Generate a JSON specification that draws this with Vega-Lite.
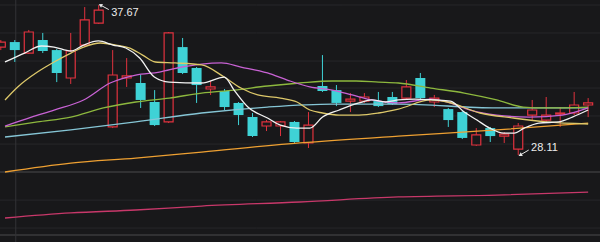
{
  "$schema": "https://vega.github.io/schema/vega-lite/v6.json",
  "width": 600,
  "height": 242,
  "padding": 0,
  "autosize": "none",
  "background": "#18181a",
  "config": {"view": {"stroke": null}},
  "datasets": {
    "candles": [
      {"i":0,"o":34.99,"c":35.31,"h":35.44,"l":34.80,"d":"up"},
      {"i":1,"o":35.31,"c":34.80,"h":35.44,"l":34.04,"d":"down"},
      {"i":2,"o":34.61,"c":35.95,"h":36.08,"l":34.55,"d":"up"},
      {"i":3,"o":35.44,"c":34.74,"h":35.89,"l":34.61,"d":"down"},
      {"i":4,"o":34.80,"c":33.34,"h":34.87,"l":32.76,"d":"down"},
      {"i":5,"o":33.02,"c":34.74,"h":35.89,"l":32.64,"d":"up"},
      {"i":6,"o":35.12,"c":36.72,"h":37.54,"l":35.06,"d":"up"},
      {"i":7,"o":36.52,"c":37.35,"h":37.67,"l":36.46,"d":"up"},
      {"i":8,"o":29.90,"c":33.21,"h":34.80,"l":29.83,"d":"up"},
      {"i":9,"o":33.02,"c":33.15,"h":34.29,"l":32.45,"d":"up"},
      {"i":10,"o":32.70,"c":31.62,"h":33.21,"l":31.11,"d":"down"},
      {"i":11,"o":31.49,"c":30.02,"h":32.25,"l":29.96,"d":"down"},
      {"i":12,"o":30.22,"c":35.89,"h":35.95,"l":30.15,"d":"up"},
      {"i":13,"o":34.99,"c":33.34,"h":35.57,"l":33.27,"d":"down"},
      {"i":14,"o":33.66,"c":32.57,"h":33.72,"l":31.43,"d":"down"},
      {"i":15,"o":32.32,"c":32.45,"h":32.83,"l":31.94,"d":"up"},
      {"i":16,"o":32.19,"c":31.17,"h":32.32,"l":30.98,"d":"down"},
      {"i":17,"o":31.43,"c":30.66,"h":31.49,"l":30.02,"d":"down"},
      {"i":18,"o":30.53,"c":29.32,"h":30.79,"l":29.26,"d":"down"},
      {"i":19,"o":29.96,"c":30.22,"h":30.34,"l":29.64,"d":"up"},
      {"i":20,"o":29.96,"c":30.22,"h":30.28,"l":29.32,"d":"up"},
      {"i":21,"o":30.22,"c":28.94,"h":30.28,"l":28.88,"d":"down"},
      {"i":22,"o":28.88,"c":30.02,"h":30.85,"l":28.56,"d":"up"},
      {"i":23,"o":32.51,"c":32.19,"h":34.48,"l":32.13,"d":"down"},
      {"i":24,"o":32.25,"c":31.43,"h":32.57,"l":31.23,"d":"down"},
      {"i":25,"o":31.55,"c":31.68,"h":32.06,"l":30.85,"d":"up"},
      {"i":26,"o":31.55,"c":31.81,"h":32.06,"l":31.43,"d":"up"},
      {"i":27,"o":31.55,"c":31.23,"h":32.13,"l":31.17,"d":"down"},
      {"i":28,"o":31.81,"c":31.36,"h":32.13,"l":31.30,"d":"down"},
      {"i":29,"o":31.74,"c":32.45,"h":32.89,"l":31.68,"d":"up"},
      {"i":30,"o":33.02,"c":31.74,"h":33.34,"l":31.68,"d":"down"},
      {"i":31,"o":31.49,"c":31.74,"h":31.94,"l":31.17,"d":"up"},
      {"i":32,"o":31.04,"c":30.34,"h":31.11,"l":29.90,"d":"down"},
      {"i":33,"o":30.85,"c":29.20,"h":30.92,"l":29.13,"d":"down"},
      {"i":34,"o":28.75,"c":29.39,"h":29.83,"l":28.69,"d":"up"},
      {"i":35,"o":29.83,"c":29.32,"h":29.90,"l":28.94,"d":"down"},
      {"i":36,"o":29.32,"c":29.45,"h":29.58,"l":28.88,"d":"up"},
      {"i":37,"o":28.49,"c":29.96,"h":30.15,"l":28.11,"d":"up"},
      {"i":38,"o":30.66,"c":30.98,"h":31.62,"l":30.28,"d":"up"},
      {"i":39,"o":30.34,"c":30.66,"h":31.81,"l":30.22,"d":"up"},
      {"i":40,"o":30.72,"c":30.79,"h":31.17,"l":29.90,"d":"up"},
      {"i":41,"o":30.79,"c":31.30,"h":32.13,"l":30.66,"d":"up"},
      {"i":42,"o":31.30,"c":31.43,"h":31.74,"l":30.53,"d":"up"}
    ],
    "ma": [
      {"ma":"MA5","i":0.30,"p":34.04},{"ma":"MA5","i":1.70,"p":34.61},{"ma":"MA5","i":2.90,"p":35.06},{"ma":"MA5","i":3.81,"p":34.99},{"ma":"MA5","i":5.01,"p":34.74},{"ma":"MA5","i":5.92,"p":35.12},{"ma":"MA5","i":6.98,"p":35.38},{"ma":"MA5","i":8.03,"p":35.12},{"ma":"MA5","i":8.94,"p":34.93},{"ma":"MA5","i":9.93,"p":34.29},{"ma":"MA5","i":10.98,"p":33.08},{"ma":"MA5","i":12.04,"p":32.76},{"ma":"MA5","i":14.36,"p":32.70},{"ma":"MA5","i":15.98,"p":33.08},{"ma":"MA5","i":16.68,"p":32.25},{"ma":"MA5","i":17.67,"p":31.17},{"ma":"MA5","i":19.07,"p":30.47},{"ma":"MA5","i":19.99,"p":30.02},{"ma":"MA5","i":21.18,"p":29.83},{"ma":"MA5","i":22.10,"p":29.83},{"ma":"MA5","i":23.01,"p":30.53},{"ma":"MA5","i":24.20,"p":30.98},{"ma":"MA5","i":25.61,"p":31.43},{"ma":"MA5","i":26.53,"p":31.62},{"ma":"MA5","i":27.51,"p":31.49},{"ma":"MA5","i":28.43,"p":31.62},{"ma":"MA5","i":29.62,"p":31.68},{"ma":"MA5","i":31.03,"p":31.62},{"ma":"MA5","i":32.15,"p":31.55},{"ma":"MA5","i":33.14,"p":30.85},{"ma":"MA5","i":34.05,"p":30.34},{"ma":"MA5","i":34.96,"p":29.83},{"ma":"MA5","i":35.95,"p":29.51},{"ma":"MA5","i":36.72,"p":29.51},{"ma":"MA5","i":37.43,"p":29.83},{"ma":"MA5","i":38.48,"p":30.15},{"ma":"MA5","i":39.89,"p":30.22},{"ma":"MA5","i":40.87,"p":30.53},{"ma":"MA5","i":42.00,"p":30.98},
      {"ma":"MA10","i":0.30,"p":31.62},{"ma":"MA10","i":1.21,"p":32.45},{"ma":"MA10","i":2.62,"p":33.40},{"ma":"MA10","i":3.81,"p":34.04},{"ma":"MA10","i":5.01,"p":34.61},{"ma":"MA10","i":5.92,"p":34.99},{"ma":"MA10","i":7.12,"p":35.25},{"ma":"MA10","i":8.24,"p":35.12},{"ma":"MA10","i":9.23,"p":34.93},{"ma":"MA10","i":10.14,"p":34.48},{"ma":"MA10","i":11.05,"p":34.04},{"ma":"MA10","i":12.46,"p":33.98},{"ma":"MA10","i":14.36,"p":33.85},{"ma":"MA10","i":15.98,"p":33.08},{"ma":"MA10","i":17.17,"p":32.38},{"ma":"MA10","i":18.37,"p":31.94},{"ma":"MA10","i":19.99,"p":31.74},{"ma":"MA10","i":21.18,"p":31.49},{"ma":"MA10","i":22.10,"p":30.98},{"ma":"MA10","i":23.01,"p":30.79},{"ma":"MA10","i":24.20,"p":30.66},{"ma":"MA10","i":25.61,"p":30.66},{"ma":"MA10","i":27.02,"p":30.79},{"ma":"MA10","i":28.43,"p":31.04},{"ma":"MA10","i":30.75,"p":31.62},{"ma":"MA10","i":31.94,"p":31.49},{"ma":"MA10","i":34.26,"p":30.79},{"ma":"MA10","i":36.65,"p":30.47},{"ma":"MA10","i":38.97,"p":30.22},{"ma":"MA10","i":42.00,"p":30.09},
      {"ma":"MA20","i":0.30,"p":29.96},{"ma":"MA20","i":2.19,"p":30.53},{"ma":"MA20","i":3.81,"p":30.98},{"ma":"MA20","i":5.92,"p":31.62},{"ma":"MA20","i":7.82,"p":32.70},{"ma":"MA20","i":9.65,"p":33.21},{"ma":"MA20","i":11.34,"p":33.40},{"ma":"MA20","i":12.95,"p":33.72},{"ma":"MA20","i":14.36,"p":33.91},{"ma":"MA20","i":15.77,"p":33.98},{"ma":"MA20","i":17.17,"p":33.72},{"ma":"MA20","i":19.07,"p":33.34},{"ma":"MA20","i":20.48,"p":32.89},{"ma":"MA20","i":22.10,"p":32.45},{"ma":"MA20","i":23.71,"p":32.25},{"ma":"MA20","i":25.12,"p":31.94},{"ma":"MA20","i":26.53,"p":31.62},{"ma":"MA20","i":28.43,"p":31.43},{"ma":"MA20","i":30.75,"p":31.68},{"ma":"MA20","i":31.94,"p":31.49},{"ma":"MA20","i":33.56,"p":30.98},{"ma":"MA20","i":35.46,"p":30.66},{"ma":"MA20","i":37.78,"p":30.53},{"ma":"MA20","i":40.17,"p":30.66},{"ma":"MA20","i":42.00,"p":31.11},
      {"ma":"MA30","i":0.30,"p":29.90},{"ma":"MA30","i":2.62,"p":30.22},{"ma":"MA30","i":5.01,"p":30.53},{"ma":"MA30","i":7.33,"p":31.11},{"ma":"MA30","i":9.65,"p":31.49},{"ma":"MA30","i":12.04,"p":31.74},{"ma":"MA30","i":14.36,"p":32.06},{"ma":"MA30","i":16.68,"p":32.25},{"ma":"MA30","i":19.07,"p":32.51},{"ma":"MA30","i":21.39,"p":32.70},{"ma":"MA30","i":23.71,"p":32.83},{"ma":"MA30","i":25.40,"p":32.83},{"ma":"MA30","i":27.02,"p":32.76},{"ma":"MA30","i":28.43,"p":32.70},{"ma":"MA30","i":30.75,"p":32.38},{"ma":"MA30","i":33.14,"p":32.06},{"ma":"MA30","i":35.46,"p":31.62},{"ma":"MA30","i":37.36,"p":31.17},{"ma":"MA30","i":38.97,"p":31.11},{"ma":"MA30","i":42.00,"p":31.17},
      {"ma":"MA60","i":0.30,"p":29.26},{"ma":"MA60","i":5.01,"p":29.71},{"ma":"MA60","i":9.65,"p":30.22},{"ma":"MA60","i":14.36,"p":30.79},{"ma":"MA60","i":19.07,"p":31.17},{"ma":"MA60","i":23.71,"p":31.36},{"ma":"MA60","i":28.43,"p":31.36},{"ma":"MA60","i":35.46,"p":31.11},{"ma":"MA60","i":42.00,"p":31.11},
      {"ma":"MA120","i":0.30,"p":27.03},{"ma":"MA120","i":5.01,"p":27.60},{"ma":"MA120","i":9.65,"p":27.92},{"ma":"MA120","i":14.36,"p":28.30},{"ma":"MA120","i":21.39,"p":28.88},{"ma":"MA120","i":28.43,"p":29.32},{"ma":"MA120","i":35.46,"p":29.71},{"ma":"MA120","i":42.00,"p":30.15},
      {"ma":"MA250","i":0.30,"p":24.10},{"ma":"MA250","i":5.01,"p":24.42},{"ma":"MA250","i":9.65,"p":24.61},{"ma":"MA250","i":14.36,"p":24.86},{"ma":"MA250","i":21.39,"p":25.12},{"ma":"MA250","i":28.43,"p":25.44},{"ma":"MA250","i":35.46,"p":25.56},{"ma":"MA250","i":42.00,"p":25.75}
    ],
    "grid": [
      {"p":37.67,"k":"minor"},{"p":35.89,"k":"minor"},{"p":34.10,"k":"minor"},{"p":32.38,"k":"minor"},{"p":30.60,"k":"minor"},{"p":28.81,"k":"minor"},{"p":25.24,"k":"minor"},{"p":23.46,"k":"minor"},
      {"p":27.03,"k":"major"},{"p":23.01,"k":"major"}
    ],
    "divider": [{"i":1.07}],
    "notes": [
      {"label":"37.67","i":7.72,"p":37.38,"ti":7.12,"tp":37.67,"li":7.89,"lp":37.13,"ang":297},
      {"label":"28.11","i":37.75,"p":28.43,"ti":37.14,"tp":28.11,"li":37.92,"lp":28.56,"ang":241}
    ]
  },
  "layer": [
    {
      "data": {"name": "grid"},
      "transform": [{"filter": "datum.k == 'minor'"}],
      "mark": {"type": "rule", "color": "#27272a", "strokeWidth": 1},
      "encoding": {"y": {"field": "p", "type": "quantitative", "scale": {"domain": [22.57, 37.99], "nice": false, "zero": false}, "axis": null}}
    },
    {
      "data": {"name": "grid"},
      "transform": [{"filter": "datum.k == 'major'"}],
      "mark": {"type": "rule", "color": "#3a3a3d", "strokeWidth": 1.5},
      "encoding": {"y": {"field": "p", "type": "quantitative", "scale": {"domain": [22.57, 37.99], "nice": false, "zero": false}, "axis": null}}
    },
    {
      "data": {"name": "divider"},
      "mark": {"type": "rule", "color": "#333336", "strokeWidth": 1},
      "encoding": {"x": {"field": "i", "type": "quantitative", "scale": {"domain": [0.30, 42.49], "nice": false, "zero": false}, "axis": null}}
    },
    {
      "data": {"name": "candles"},
      "transform": [{"filter": "datum.d == 'up'"}],
      "mark": {"type": "rule", "color": "#e0323e", "strokeWidth": 1},
      "encoding": {
        "x": {"field": "i", "type": "quantitative", "scale": {"domain": [0.30, 42.49], "nice": false, "zero": false}, "axis": null},
        "y": {"field": "h", "type": "quantitative", "scale": {"domain": [22.57, 37.99], "nice": false, "zero": false}, "axis": null},
        "y2": {"field": "l"}
      }
    },
    {
      "data": {"name": "candles"},
      "transform": [{"filter": "datum.d == 'down'"}],
      "mark": {"type": "rule", "color": "#3fd2d6", "strokeWidth": 1},
      "encoding": {
        "x": {"field": "i", "type": "quantitative", "scale": {"domain": [0.30, 42.49], "nice": false, "zero": false}, "axis": null},
        "y": {"field": "h", "type": "quantitative", "scale": {"domain": [22.57, 37.99], "nice": false, "zero": false}, "axis": null},
        "y2": {"field": "l"}
      }
    },
    {
      "data": {"name": "candles"},
      "transform": [{"filter": "datum.d == 'up'"}],
      "mark": {"type": "bar", "orient": "vertical", "size": 9, "fill": "#18181a", "stroke": "#e0323e", "strokeWidth": 1.2},
      "encoding": {
        "x": {"field": "i", "type": "quantitative", "scale": {"domain": [0.30, 42.49], "nice": false, "zero": false}, "axis": null},
        "y": {"field": "o", "type": "quantitative", "scale": {"domain": [22.57, 37.99], "nice": false, "zero": false}, "axis": null},
        "y2": {"field": "c"}
      }
    },
    {
      "data": {"name": "candles"},
      "transform": [{"filter": "datum.d == 'down'"}],
      "mark": {"type": "bar", "orient": "vertical", "size": 10, "fill": "#3fd2d6"},
      "encoding": {
        "x": {"field": "i", "type": "quantitative", "scale": {"domain": [0.30, 42.49], "nice": false, "zero": false}, "axis": null},
        "y": {"field": "o", "type": "quantitative", "scale": {"domain": [22.57, 37.99], "nice": false, "zero": false}, "axis": null},
        "y2": {"field": "c"}
      }
    },
    {
      "data": {"name": "ma"},
      "transform": [{"filter": "datum.ma == 'MA250'"}],
      "mark": {"type": "line", "color": "#c8386a", "strokeWidth": 1.3, "interpolate": "monotone"},
      "encoding": {
        "x": {"field": "i", "type": "quantitative", "scale": {"domain": [0.30, 42.49], "nice": false, "zero": false}, "axis": null},
        "y": {"field": "p", "type": "quantitative", "scale": {"domain": [22.57, 37.99], "nice": false, "zero": false}, "axis": null}
      }
    },
    {
      "data": {"name": "ma"},
      "transform": [{"filter": "datum.ma == 'MA120'"}],
      "mark": {"type": "line", "color": "#eea032", "strokeWidth": 1.3, "interpolate": "monotone"},
      "encoding": {
        "x": {"field": "i", "type": "quantitative", "scale": {"domain": [0.30, 42.49], "nice": false, "zero": false}, "axis": null},
        "y": {"field": "p", "type": "quantitative", "scale": {"domain": [22.57, 37.99], "nice": false, "zero": false}, "axis": null}
      }
    },
    {
      "data": {"name": "ma"},
      "transform": [{"filter": "datum.ma == 'MA60'"}],
      "mark": {"type": "line", "color": "#86c6d6", "strokeWidth": 1.3, "interpolate": "monotone"},
      "encoding": {
        "x": {"field": "i", "type": "quantitative", "scale": {"domain": [0.30, 42.49], "nice": false, "zero": false}, "axis": null},
        "y": {"field": "p", "type": "quantitative", "scale": {"domain": [22.57, 37.99], "nice": false, "zero": false}, "axis": null}
      }
    },
    {
      "data": {"name": "ma"},
      "transform": [{"filter": "datum.ma == 'MA30'"}],
      "mark": {"type": "line", "color": "#8db83e", "strokeWidth": 1.3, "interpolate": "monotone"},
      "encoding": {
        "x": {"field": "i", "type": "quantitative", "scale": {"domain": [0.30, 42.49], "nice": false, "zero": false}, "axis": null},
        "y": {"field": "p", "type": "quantitative", "scale": {"domain": [22.57, 37.99], "nice": false, "zero": false}, "axis": null}
      }
    },
    {
      "data": {"name": "ma"},
      "transform": [{"filter": "datum.ma == 'MA20'"}],
      "mark": {"type": "line", "color": "#c862d4", "strokeWidth": 1.3, "interpolate": "monotone"},
      "encoding": {
        "x": {"field": "i", "type": "quantitative", "scale": {"domain": [0.30, 42.49], "nice": false, "zero": false}, "axis": null},
        "y": {"field": "p", "type": "quantitative", "scale": {"domain": [22.57, 37.99], "nice": false, "zero": false}, "axis": null}
      }
    },
    {
      "data": {"name": "ma"},
      "transform": [{"filter": "datum.ma == 'MA10'"}],
      "mark": {"type": "line", "color": "#ddc86a", "strokeWidth": 1.3, "interpolate": "monotone"},
      "encoding": {
        "x": {"field": "i", "type": "quantitative", "scale": {"domain": [0.30, 42.49], "nice": false, "zero": false}, "axis": null},
        "y": {"field": "p", "type": "quantitative", "scale": {"domain": [22.57, 37.99], "nice": false, "zero": false}, "axis": null}
      }
    },
    {
      "data": {"name": "ma"},
      "transform": [{"filter": "datum.ma == 'MA5'"}],
      "mark": {"type": "line", "color": "#f2f2f2", "strokeWidth": 1.3, "interpolate": "monotone"},
      "encoding": {
        "x": {"field": "i", "type": "quantitative", "scale": {"domain": [0.30, 42.49], "nice": false, "zero": false}, "axis": null},
        "y": {"field": "p", "type": "quantitative", "scale": {"domain": [22.57, 37.99], "nice": false, "zero": false}, "axis": null}
      }
    },
    {
      "data": {"name": "notes"},
      "mark": {"type": "rule", "color": "#e8e8e8", "strokeWidth": 1},
      "encoding": {
        "x": {"field": "i", "type": "quantitative", "scale": {"domain": [0.30, 42.49], "nice": false, "zero": false}, "axis": null},
        "y": {"field": "p", "type": "quantitative", "scale": {"domain": [22.57, 37.99], "nice": false, "zero": false}, "axis": null},
        "x2": {"field": "ti"},
        "y2": {"field": "tp"}
      }
    },
    {
      "data": {"name": "notes"},
      "mark": {"type": "point", "shape": "triangle-up", "filled": true, "color": "#e8e8e8", "size": 18, "opacity": 1},
      "encoding": {
        "x": {"field": "ti", "type": "quantitative", "scale": {"domain": [0.30, 42.49], "nice": false, "zero": false}, "axis": null},
        "y": {"field": "tp", "type": "quantitative", "scale": {"domain": [22.57, 37.99], "nice": false, "zero": false}, "axis": null},
        "angle": {"field": "ang", "type": "quantitative", "scale": null}
      }
    },
    {
      "data": {"name": "notes"},
      "mark": {"type": "text", "align": "left", "baseline": "middle", "color": "#ececec", "fontSize": 11, "font": "Liberation Sans"},
      "encoding": {
        "x": {"field": "li", "type": "quantitative", "scale": {"domain": [0.30, 42.49], "nice": false, "zero": false}, "axis": null},
        "y": {"field": "lp", "type": "quantitative", "scale": {"domain": [22.57, 37.99], "nice": false, "zero": false}, "axis": null},
        "text": {"field": "label"}
      }
    }
  ]
}
